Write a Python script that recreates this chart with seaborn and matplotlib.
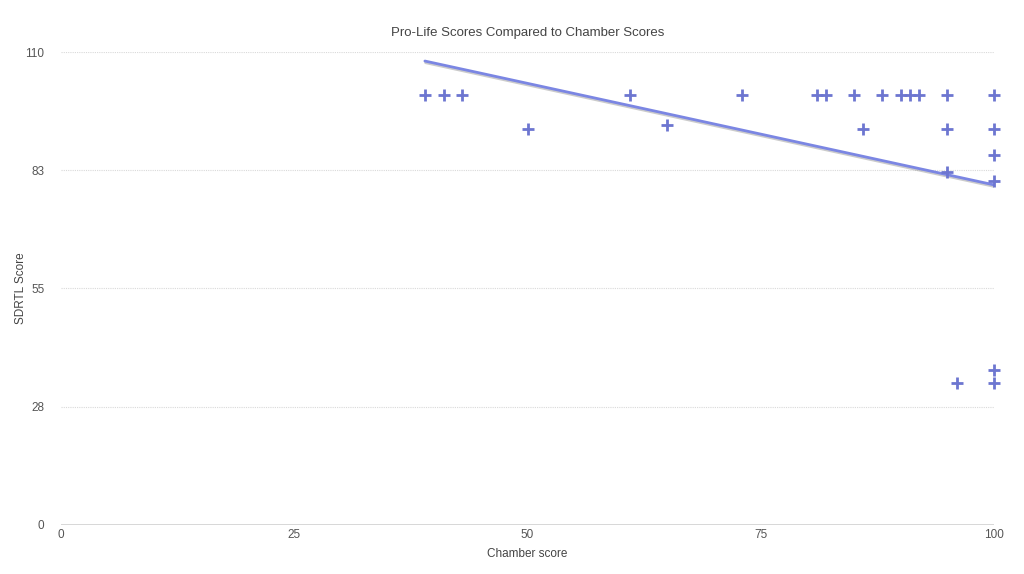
import matplotlib
matplotlib.use("Agg")
import matplotlib.pyplot as plt
import matplotlib.patheffects as pe
import seaborn as sns
import pandas as pd

chamber = [39, 41, 43, 61, 73, 81, 82, 85, 88, 90, 91, 92, 95, 100,
           50, 86, 95, 100, 65, 100, 95, 100, 100, 96, 100]
sdrtl = [100, 100, 100, 100, 100, 100, 100, 100, 100, 100, 100, 100, 100, 100,
         92, 92, 92, 92, 93, 86, 82, 80, 36, 33, 33]
trend_x = [39, 100]
trend_y = [107.9, 79.1]
y_ticks = [0, 27.5, 55, 82.5, 110]
y_tick_labels = ["0", "28", "55", "83", "110"]
x_ticks = [0, 25, 50, 75, 100]

df = pd.DataFrame({"Chamber score": chamber, "SDRTL Score": sdrtl})
trend = pd.DataFrame({"x": trend_x, "y": trend_y})

sns.set_theme(style="white")
plt.rcParams['font.family'] = ['Liberation Sans', 'DejaVu Sans']

fig = plt.figure(figsize=(10.24, 5.74), dpi=100)
ax = fig.add_axes([0.0596, 0.0854, 0.9111, 0.8240])

point_color = "#6d76d0"
line_color = "#7b86e3"

for y in y_ticks[1:]:
    ax.axhline(y, color="#d9d9d9", lw=0.8, ls=(0, (1, 1)), zorder=0)
ax.axhline(0, color="#d4d4d4", lw=1.3, zorder=1)

sns.lineplot(data=trend, x="x", y="y", ax=ax, color=line_color, lw=2, zorder=2,
             path_effects=[pe.SimpleLineShadow(offset=(0.5, -1.2), shadow_color="#999999", alpha=0.5),
                           pe.Normal()])
sns.scatterplot(data=df, x="Chamber score", y="SDRTL Score", ax=ax, marker="+",
                color=point_color, s=85, linewidth=2.0, clip_on=False, zorder=3)

ax.set_xlim(0, 100)
ax.set_ylim(0, 110)
ax.set_yticks(y_ticks)
ax.set_yticklabels(y_tick_labels)
ax.set_xticks(x_ticks)

for s in ax.spines.values():
    s.set_visible(False)
ax.tick_params(axis="both", length=0, labelsize=8.5, colors="#555555")
ax.tick_params(axis="y", pad=12)
ax.tick_params(axis="x", pad=3)

ax.set_xlabel("Chamber score", fontsize=8.5, color="#444444")
ax.set_ylabel("SDRTL Score", fontsize=8.5, color="#444444")
ax.xaxis.set_label_coords(0.5, -0.048)
ax.yaxis.set_label_coords(-0.036, 0.5)
fig.text(527.5 / 1024, 1 - 33 / 574, "Pro-Life Scores Compared to Chamber Scores",
         ha="center", va="center", fontsize=9.5, color="#444444")

fig.savefig("out.png", dpi=100)
